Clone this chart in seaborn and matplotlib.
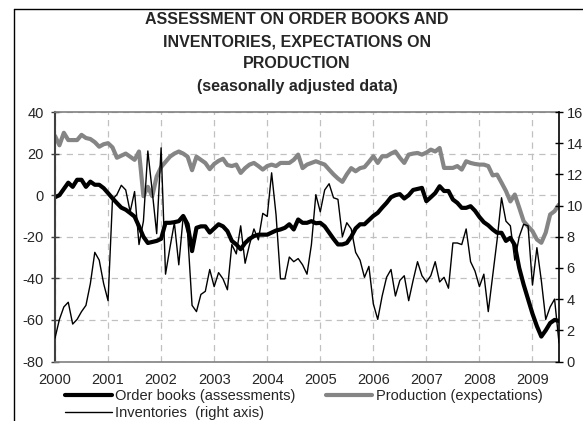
import matplotlib
matplotlib.use("Agg")
import matplotlib.pyplot as plt
from matplotlib.lines import Line2D
import seaborn as sns

# monthly balances, Jan 2000 - Jul 2009
months = [2000 + i / 12 for i in range(115)]
years = list(range(2000, 2010))
year_labels = [str(y) for y in years]

# Order books (assessments), left axis
order_books = [
    -1, 0, 3, 6, 4, 7.4, 7.4, 4, 6.5, 5, 5, 3.4,
    1, -1.5, -3.8, -6, -7, -8.6, -10.3, -15, -20, -23, -22.5, -22,
    -21, -13.3, -13.3, -13, -12.5, -10, -14, -26.9, -15.7, -15, -15, -18,
    -16, -14, -15, -17.3, -22, -23.7, -26, -23, -21, -19.7, -19, -19,
    -19, -18, -17, -16.5, -15.7, -14, -16.5, -11.7, -13.3, -13.3, -12.5, -13.5,
    -13.3, -15, -18, -21, -23.7, -23.7, -23, -20, -16, -14, -14, -12,
    -10, -8.5, -6, -3.7, -1, 0, 0.5, -1.6, 0, 2.5, 3, 3.5,
    -2.9, -1, 1, 4.3, 2, 2, -2.1, -3.7, -6.1, -6.1, -5.3, -7.5,
    -10.5, -13, -14.5, -16.5, -18.1, -18.1, -22, -20.5, -24, -35, -43, -50,
    -57, -63, -68, -65, -61.5, -60, -60.5,
]

# Production (expectations), left axis
production = [
    28.5, 24, 30, 26.5, 26.5, 26.5, 29, 27.5, 27, 25.5, 23.3, 24.5,
    25, 23, 18, 19, 20, 18.5, 17, 21, -0.5, 4, -0.5, 9,
    13.5, 16, 18.5, 20, 21, 20, 18.5, 12, 18.5, 17, 15.5, 12.5,
    15, 16.5, 17.5, 14.5, 14, 14.7, 10.7, 13, 14.7, 15.5, 14, 12.3,
    14, 14.7, 14, 15.5, 15.5, 15.5, 17, 19.5, 13, 14.7, 15.5, 16.3,
    15.5, 14.7, 12.3, 10, 8, 6.4, 10, 13, 11.5, 13, 13.5, 16,
    18.7, 15.5, 18.7, 18.7, 20, 21, 18, 15.5, 19.5, 20, 20.3, 19.5,
    20.5, 21.9, 21, 22.7, 13.1, 13.1, 13.1, 14, 12.3, 16.3, 15.5, 15,
    14.7, 14.7, 14, 9.5, 9.9, 6, 2, -3, 0.3, -6, -12.5, -15,
    -17.3, -21.3, -22.9, -18, -9.3, -7.7, -4.5,
]

# Inventories, right axis
inventories = [
    1.5, 2.7, 3.5, 3.8, 2.4, 2.7, 3.2, 3.6, 5, 7, 6.5, 5,
    3.9, 10.4, 10.7, 11.3, 11, 9.6, 10.9, 7.5, 9, 13.5, 10.9, 8.2,
    13.7, 5.6, 7.3, 8.9, 6.2, 9.3, 8.2, 3.6, 3.2, 4.3, 4.5, 5.9,
    4.8, 5.7, 5.3, 4.6, 7.5, 6.9, 8.7, 6.3, 7.5, 8.5, 7.8, 9.5,
    9.3, 12.1, 9.4, 5.3, 5.3, 6.7, 6.4, 6.6, 6.2, 5.6, 7.5, 10.7,
    9.6, 11, 11.4, 10.5, 10.4, 8, 8.9, 8.5, 7, 6.5, 5.4, 6.1,
    3.7, 2.7, 4.2, 5.4, 5.9, 4.2, 5.2, 5.5, 3.9, 5.2, 6.4, 5.5,
    5.1, 5.5, 6.4, 5.1, 5.4, 4.7, 7.6, 7.6, 7.5, 8.5, 6.4, 5.8,
    4.8, 5.6, 3.2, 5.5, 7.8, 10.5, 9, 8.7, 6.5, 8, 8.8, 8.7,
    4.9, 7.3, 5.2, 2.7, 3.5, 4, 1.2,
]

title_lines = [
    "ASSESSMENT ON ORDER BOOKS AND",
    "INVENTORIES, EXPECTATIONS ON",
    "PRODUCTION",
    "(seasonally adjusted data)",
]
series_labels = ["Order books (assessments)", "Production (expectations)",
                 "Inventories  (right axis)"]

sns.set_style("white")
plt.rcParams["font.family"] = ["Liberation Sans", "DejaVu Sans"]
plt.rcParams["axes.unicode_minus"] = False

W, H = 583, 421
fig = plt.figure(figsize=(W / 100, H / 100), dpi=100)
ax = fig.add_axes([55 / W, 1 - 361.5 / H, 504 / W, 249.5 / H])
ax2 = ax.twinx()

sns.lineplot(x=months, y=order_books, ax=ax, color="black", lw=3, legend=False)
sns.lineplot(x=months, y=production, ax=ax, color="#858585", lw=3, legend=False)
sns.lineplot(x=months, y=inventories, ax=ax2, color="black", lw=1, legend=False)

ax.set_xlim(2000, 2009.5)
ax.set_ylim(-80, 40)
ax2.set_ylim(0, 16)
ax.set_xticks(years)
ax.set_xticklabels(year_labels)
ax.set_yticks(range(-80, 41, 20))
ax2.set_yticks(range(0, 17, 2))

ax.set_axisbelow(True)
ax.grid(True, color="#c0c0c0", lw=0.9, ls=(0, (5, 4)))
ax2.grid(False)

for s in ["top", "bottom"]:
    ax.spines[s].set_color("#808080")
    ax.spines[s].set_linewidth(1.2)
ax.spines["left"].set_color("#404040")
ax.spines["left"].set_linewidth(1.5)
ax.spines["right"].set_visible(False)
for s in ["left", "top", "bottom"]:
    ax2.spines[s].set_visible(False)
ax2.spines["right"].set_color("black")
ax2.spines["right"].set_linewidth(1.2)

ax.tick_params(axis="y", direction="inout", length=6, width=1, color="#404040",
               labelsize=10.5, pad=5)
ax.tick_params(axis="x", length=0, labelsize=10.5, pad=8.5)
ax2.tick_params(axis="y", direction="inout", length=6, width=1, color="black",
                labelsize=10.5, pad=2.5)
ax.set_xlabel("")
ax.set_ylabel("")
ax2.set_ylabel("")

# outer chart frame (cut off on right and bottom)
fig.add_artist(Line2D([14 / W, 14 / W], [0, 1 - 9 / H], transform=fig.transFigure,
                      color="black", lw=1))
fig.add_artist(Line2D([14 / W, 1], [1 - 9 / H, 1 - 9 / H], transform=fig.transFigure,
                      color="black", lw=1))

for txt, y in zip(title_lines, [19, 42, 64, 87]):
    fig.text(297 / W, 1 - y / H, txt, ha="center", va="center",
             fontsize=11.5, fontweight="bold")

handles = [ax.lines[0], ax2.lines[0], ax.lines[1]]
labels = [series_labels[0], series_labels[2], series_labels[1]]
fig.legend(handles, labels, ncol=2, loc="upper left",
           bbox_to_anchor=(65 / W, 1 - 389 / H), frameon=False, fontsize=10.5,
           handlelength=3.2, handletextpad=0.25, columnspacing=2.05,
           labelspacing=0.22, borderpad=0, borderaxespad=0)

fig.savefig("out.png", dpi=100)
